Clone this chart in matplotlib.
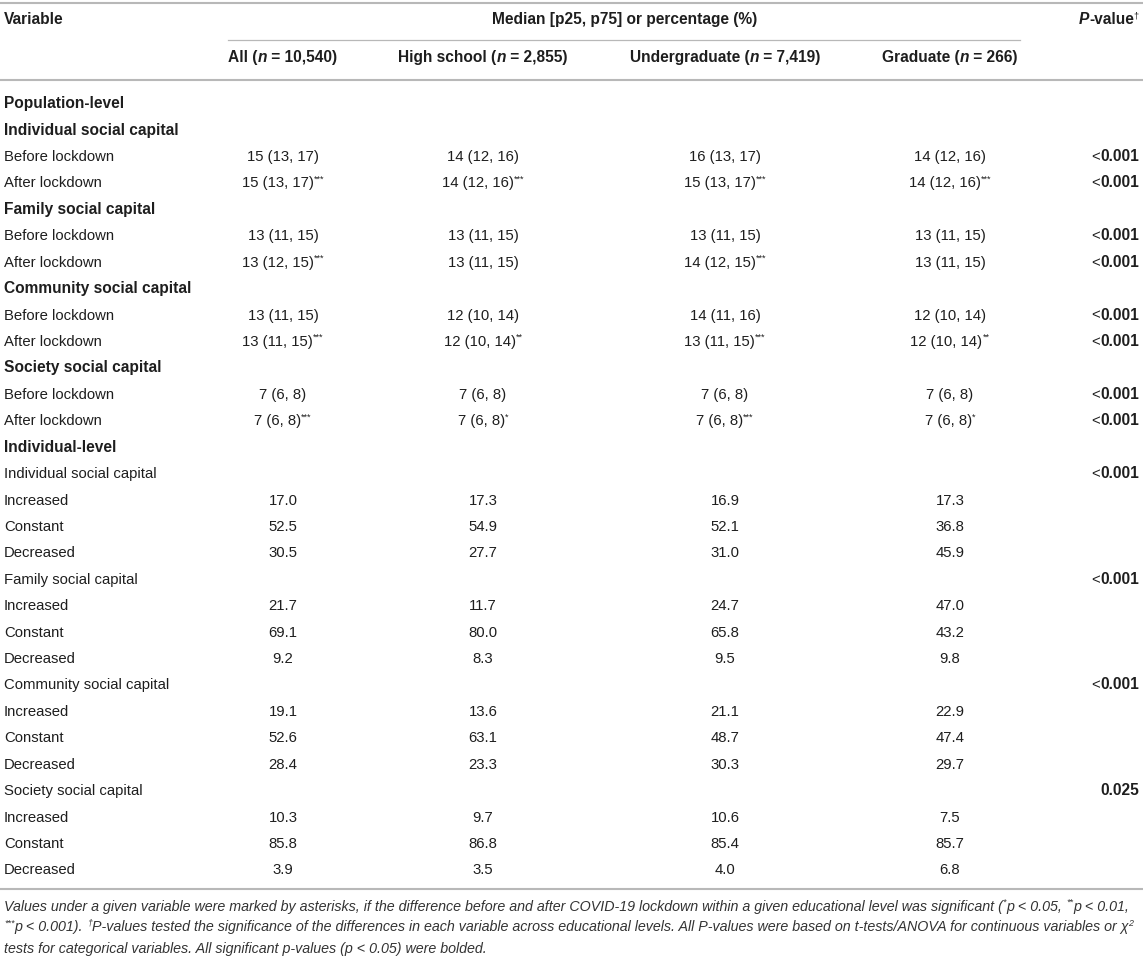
import matplotlib.pyplot as plt

W, H = 1143, 958
BODY = ['Liberation Sans', 'DejaVu Sans']
NOTE = ['Liberation Sans Narrow', 'Liberation Sans', 'DejaVu Sans']
INK = '#1e1e1e'
RULE = '#b8b8b8'
FS = 10.7
FS_BOLD = 11.2

# header
groups = ["All", "High school", "Undergraduate", "Graduate"]
group_n = ["10,540", "2,855", "7,419", "266"]

# population-level: median (p25, p75)
pop_vars = ["Individual social capital", "Family social capital",
            "Community social capital", "Society social capital"]
pop_before = [
    ["15 (13, 17)", "14 (12, 16)", "16 (13, 17)", "14 (12, 16)"],
    ["13 (11, 15)", "13 (11, 15)", "13 (11, 15)", "13 (11, 15)"],
    ["13 (11, 15)", "12 (10, 14)", "14 (11, 16)", "12 (10, 14)"],
    ["7 (6, 8)", "7 (6, 8)", "7 (6, 8)", "7 (6, 8)"],
]
pop_after = [
    ["15 (13, 17)", "14 (12, 16)", "15 (13, 17)", "14 (12, 16)"],
    ["13 (12, 15)", "13 (11, 15)", "14 (12, 15)", "13 (11, 15)"],
    ["13 (11, 15)", "12 (10, 14)", "13 (11, 15)", "12 (10, 14)"],
    ["7 (6, 8)", "7 (6, 8)", "7 (6, 8)", "7 (6, 8)"],
]
pop_after_stars = [
    ["***", "***", "***", "***"],
    ["***", "", "***", ""],
    ["***", "**", "***", "**"],
    ["***", "*", "***", "*"],
]
pop_p = ["<0.001", "<0.001", "<0.001", "<0.001"]

# individual-level: percentages
ind_vars = pop_vars
ind_increased = [[17.0, 17.3, 16.9, 17.3], [21.7, 11.7, 24.7, 47.0],
                 [19.1, 13.6, 21.1, 22.9], [10.3, 9.7, 10.6, 7.5]]
ind_constant = [[52.5, 54.9, 52.1, 36.8], [69.1, 80.0, 65.8, 43.2],
                [52.6, 63.1, 48.7, 47.4], [85.8, 86.8, 85.4, 85.7]]
ind_decreased = [[30.5, 27.7, 31.0, 45.9], [9.2, 8.3, 9.5, 9.8],
                 [28.4, 23.3, 30.3, 29.7], [3.9, 3.5, 4.0, 6.8]]
ind_p = ["<0.001", "<0.001", "<0.001", "0.025"]

# layout (pixels)
col_x = [283, 483, 725, 950]
p_right = 1139
left_x = 4
row_y0, row_dy = 103, 26.42

fig = plt.figure(figsize=(W / 100, H / 100), dpi=100)
ax = fig.add_axes([0, 0, 1, 1])
ax.set_xlim(0, W)
ax.set_ylim(H, 0)
ax.axis('off')
renderer = fig.canvas.get_renderer()


def text_width(s, **kw):
    a = ax.text(0, 0, '|' + s + '|', **kw)
    b = ax.text(0, 0, '||', **kw)
    w = a.get_window_extent(renderer).width - b.get_window_extent(renderer).width
    a.remove()
    b.remove()
    return w


def draw_runs(x, y, runs, ha='left', size=FS, family=BODY, color=INK):
    """runs: list of (text, style) with style letters b=bold, i=italic, ^=superscript"""
    items = []
    for s, st in runs:
        sz = FS_BOLD if ('b' in st and size == FS) else size
        fs = sz * (0.62 if '^' in st else 1.0)
        kw = dict(fontsize=fs, family=family, color=color, va='baseline', ha='left',
                  fontweight='bold' if 'b' in st else 'normal',
                  fontstyle='italic' if 'i' in st else 'normal')
        items.append((s, kw, text_width(s, **kw), '^' in st))
    total = sum(it[2] for it in items)
    if ha == 'center':
        x0 = x - total / 2
    elif ha == 'right':
        x0 = x - total
    else:
        x0 = x
    raise_px = size * 100 / 72 * 0.40
    for s, kw, w, sup in items:
        ax.text(x0, y - (raise_px if sup else 0), s, **kw)
        x0 += w
    return total


def base(y):
    return y + 5.2


def p_runs(p):
    if p.startswith('<'):
        return [('<', ''), (p[1:], 'b')]
    return [(p, 'b')]


# rules
ax.plot([0, W], [3, 3], color=RULE, lw=1.5)
ax.plot([228, 1020], [40, 40], color=RULE, lw=0.9)
ax.plot([0, W], [80, 80], color=RULE, lw=1.5)
ax.plot([0, W], [889, 889], color=RULE, lw=1.5)

# header
draw_runs(left_x, base(19), [('Variable', 'b')])
draw_runs(625, base(19), [('Median [p25, p75] or percentage (%)', 'b')], ha='center')
draw_runs(p_right, base(19), [('P', 'bi'), ('-value', 'b'), ('†', '^')], ha='right')
for g, n, x in zip(groups, group_n, col_x):
    draw_runs(x, base(57), [(g + ' (', 'b'), ('n', 'bi'), (' = ' + n + ')', 'b')], ha='center')

# body rows
rows = [('Population-level', 'b', None, None)]
for k, name in enumerate(pop_vars):
    rows.append((name, 'b', None, None))
    rows.append(('Before lockdown', '', [[(v, '')] for v in pop_before[k]], pop_p[k]))
    rows.append(('After lockdown', '',
                 [[(v, '')] + ([(s, '^')] if s else []) for v, s in zip(pop_after[k], pop_after_stars[k])],
                 pop_p[k]))
rows.append(('Individual-level', 'b', None, None))
for k, name in enumerate(ind_vars):
    rows.append((name, '', None, ind_p[k]))
    for lab, vals in (('Increased', ind_increased[k]), ('Constant', ind_constant[k]),
                      ('Decreased', ind_decreased[k])):
        rows.append((lab, '', [[(f'{v:.1f}', '')] for v in vals], None))

for i, (label, st, cells, p) in enumerate(rows):
    y = base(row_y0 + i * row_dy)
    draw_runs(left_x, y, [(label, st)])
    if cells:
        for x, c in zip(col_x, cells):
            draw_runs(x, y, c, ha='center')
    if p:
        draw_runs(p_right, y, p_runs(p), ha='right')

# footnote
note1 = [("Values under a given variable were marked by asterisks, if the difference before and after "
          "COVID-19 lockdown within a given educational level was significant (", 'i'),
         ('*', 'i^'), ('p < 0.05, ', 'i'), ('**', 'i^'), ('p < 0.01,', 'i')]
note2 = [('***', 'i^'), ('p < 0.001). ', 'i'), ('†', 'i^'),
         ('P-values tested the significance of the differences in each variable across educational levels. '
          'All P-values were based on t-tests/ANOVA for continuous variables or χ', 'i'), ('2', 'i^')]
note3 = [('tests for categorical variables. All significant p-values (p < 0.05) were bolded.', 'i')]

w10 = sum(text_width(s, fontsize=10 * (0.62 if '^' in st else 1), family=NOTE, fontstyle='italic')
          for s, st in note1)
note_fs = 10 * (1134 / w10)
for y, runs in zip((906, 927, 948), (note1, note2, note3)):
    draw_runs(left_x, y + 4.5, runs, size=note_fs, family=NOTE, color='#333333')

fig.savefig('out.png', dpi=100)
